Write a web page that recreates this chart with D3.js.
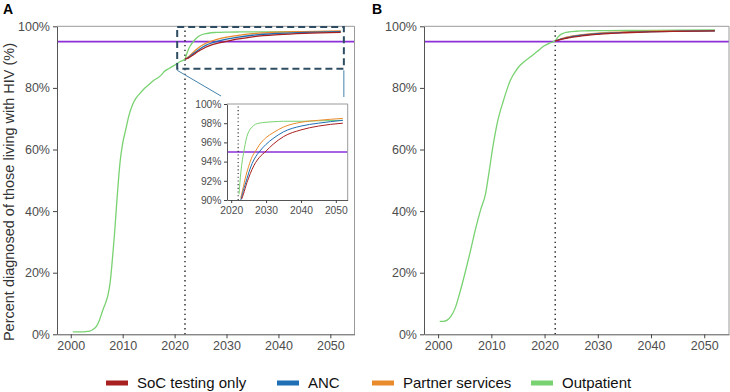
<!DOCTYPE html>
<html>
<head>
<meta charset="utf-8">
<script src="https://cdn.jsdelivr.net/npm/d3@7/dist/d3.min.js"></script>
<style>
  body { margin: 0; background: #fff; }
  svg { display: block; font-family: "Liberation Sans", Arial, sans-serif; }
</style>
</head>
<body>
<script>
// values (percent diagnosed)
const histYearsA = [2000.4, 2001, 2002, 2003, 2003.6, 2004.2, 2004.9, 2005.5, 2006.2, 2006.8, 2007.2, 2007.6, 2008, 2008.4, 2008.7, 2009, 2009.5, 2010, 2010.6, 2011.2, 2011.9, 2012.5, 2013.2, 2014, 2015, 2016, 2016.8, 2017.5, 2018, 2019, 2020, 2021, 2022];
const histA = [0.8, 0.8, 0.8, 0.9, 1.0, 1.5, 2.5, 4.5, 8, 10.6, 13, 17, 24, 32, 39, 46, 56, 62, 66.5, 71, 74.5, 76.5, 78, 79.5, 81, 82.5, 83.3, 84.3, 85.3, 86.4, 87.4, 88.5, 89.4];

const histYearsB = [2000.3, 2001, 2001.7, 2002.4, 2003.2, 2004, 2005, 2006, 2007, 2008, 2008.9, 2009.6, 2010.3, 2011.1, 2012.3, 2013.6, 2014.5, 2015.5, 2016.5, 2017.3, 2018.6, 2019.8, 2021, 2022];
const histB = [4.2, 4.2, 4.6, 5.8, 8.5, 13, 19.5, 26.5, 34, 40.5, 45.5, 53, 61, 68.5, 76, 82.6, 85.3, 87.5, 89, 90, 91.8, 93.5, 94.6, 95.3];

const projYears = [2022, 2022.25, 2022.5, 2022.75, 2023, 2023.5, 2024, 2024.5, 2025, 2026, 2027, 2028, 2030, 2032, 2035, 2040, 2045, 2052];
const socA     = [89.4, 89.5, 89.6, 89.8, 90.1, 90.6, 91.2, 91.8, 92.3, 93.2, 93.9, 94.4, 95.1, 95.8, 96.6, 97.3, 97.7, 98.0];
const ancA     = [89.4, 89.5, 89.7, 90.0, 90.3, 91.0, 91.6, 92.2, 92.8, 93.8, 94.5, 95.0, 95.8, 96.4, 97.1, 97.7, 98.0, 98.3];
const partnerA = [89.4, 89.6, 89.9, 90.2, 90.6, 91.4, 92.2, 92.9, 93.5, 94.5, 95.1, 95.7, 96.5, 97.0, 97.6, 98.1, 98.3, 98.5];
const outpatA  = [89.4, 90.6, 91.8, 92.8, 93.6, 94.8, 95.8, 96.6, 97.1, 97.6, 97.9, 98.0, 98.1, 98.15, 98.2, 98.2, 98.25, 98.3];

const socB     = [95.3, 95.35, 95.45, 95.6, 95.7, 95.9, 96.1, 96.25, 96.4, 96.65, 96.9, 97.1, 97.4, 97.65, 97.9, 98.2, 98.35, 98.5];
const ancB     = [95.3, 95.4, 95.5, 95.65, 95.8, 96.0, 96.2, 96.4, 96.6, 96.85, 97.1, 97.3, 97.6, 97.8, 98.0, 98.3, 98.4, 98.5];
const partnerB = [95.3, 95.4, 95.55, 95.7, 95.9, 96.15, 96.4, 96.6, 96.8, 97.05, 97.3, 97.45, 97.8, 98.0, 98.2, 98.4, 98.5, 98.6];
const outpatB  = [95.3, 95.9, 96.5, 96.9, 97.3, 97.7, 98.0, 98.15, 98.3, 98.4, 98.5, 98.55, 98.6, 98.62, 98.65, 98.7, 98.75, 98.8];

const seriesNames = ["SoC testing only", "ANC", "Partner services", "Outpatient"];
const seriesColors = ["#a8201f", "#1f6fb4", "#e98a2c", "#79d271"];

const xTicks = [2000, 2010, 2020, 2030, 2040, 2050];
const yTicks = [0, 20, 40, 60, 80, 100];
const insetXTicks = [2020, 2030, 2040, 2050];
const insetYTicks = [90, 92, 94, 96, 98, 100];
const targetLevel = 95;
const interventionYear = 2022;
const zoomBox = [2020.5, 2052.6, 86.2, 99.8];

// ---- layout ----
const W = 730, H = 392;
const svg = d3.select("body").append("svg").attr("width", W).attr("height", H);

const yMain = d3.scaleLinear().domain([0, 100]).range([334.3, 26.3]);
const xDomain = [1997.35, 2054.65];

function styleAxis(g, size) {
  g.attr("font-family", '"Liberation Sans", Arial, sans-serif').attr("font-size", size);
  g.select(".domain").attr("stroke", "#555");
  g.selectAll(".tick line").attr("stroke", "#444");
  g.selectAll(".tick text").attr("fill", "#4d4d4d");
}

function lineGen(x, y) {
  return d3.line().x(d => x(d[0])).y(d => y(d[1])).curve(d3.curveMonotoneX);
}

function drawLines(g, x, y, histYears, hist, proj, width, minVal) {
  const line = lineGen(x, y);
  const keep = d => minVal == null || d[1] >= minVal;
  // green carries the shared history before 2022
  const order = [3, 2, 1, 0];
  order.forEach(i => {
    let pts = d3.zip(projYears, proj[i]);
    if (i === 3) pts = d3.zip(histYears, hist).slice(0, -1).concat(pts);
    pts = pts.filter(keep);
    g.append("path")
      .attr("d", line(pts))
      .attr("fill", "none")
      .attr("stroke", seriesColors[i])
      .attr("stroke-width", width);
  });
}

function drawPanel(p) {
  const x = d3.scaleLinear().domain(xDomain).range([p.left, p.right]);
  const y = yMain;
  const g = svg.append("g");

  g.append("line")
    .attr("x1", p.left).attr("x2", p.right)
    .attr("y1", y(targetLevel)).attr("y2", y(targetLevel))
    .attr("stroke", "#8b2fd8").attr("stroke-width", 1.8);

  g.append("line")
    .attr("x1", x(interventionYear)).attr("x2", x(interventionYear))
    .attr("y1", y(0)).attr("y2", y(100))
    .attr("stroke", "#222").attr("stroke-width", 1.4)
    .attr("stroke-dasharray", "1.4 3.4");

  drawLines(g, x, y, p.histYears, p.hist, p.proj, 1.3, null);

  // frame
  g.append("path")
    .attr("d", `M${p.left},${y(100)}H${p.right}V${y(0)}`)
    .attr("fill", "none").attr("stroke", "#9a9a9a");

  g.append("g")
    .attr("transform", `translate(0,${y(0)})`)
    .call(d3.axisBottom(x).tickValues(xTicks).tickFormat(d3.format("d")).tickSize(4).tickPadding(3).tickSizeOuter(0))
    .call(a => styleAxis(a, 12.5));

  g.append("g")
    .attr("transform", `translate(${p.left},0)`)
    .call(d3.axisLeft(y).tickValues(yTicks).tickFormat(d => d + "%").tickSize(4).tickPadding(3).tickSizeOuter(0))
    .call(a => styleAxis(a, 12.5));

  svg.append("text")
    .attr("x", p.labelX).attr("y", 13.5)
    .attr("font-size", 14).attr("font-weight", "bold").attr("fill", "#000")
    .text(p.label);

  if (p.inset) drawInset(x, y, p);
}

function drawInset(xm, ym, p) {
  const left = 227, right = 347.7, top = 104, bottom = 200;
  const x = d3.scaleLinear().domain([2018.8, 2053.4]).range([left, right]);
  const y = d3.scaleLinear().domain([90, 100]).range([bottom, top]);

  // highlighted region and connectors
  svg.append("rect")
    .attr("x", xm(zoomBox[0])).attr("y", ym(zoomBox[3]))
    .attr("width", xm(zoomBox[1]) - xm(zoomBox[0]))
    .attr("height", ym(zoomBox[2]) - ym(zoomBox[3]))
    .attr("fill", "none").attr("stroke", "#2e4d63")
    .attr("stroke-width", 2).attr("stroke-dasharray", "7 4");
  svg.append("line")
    .attr("x1", xm(zoomBox[0])).attr("y1", ym(zoomBox[2]) + 1.5)
    .attr("x2", 221).attr("y2", 96)
    .attr("stroke", "#4482ab").attr("stroke-width", 1);
  svg.append("line")
    .attr("x1", xm(zoomBox[1])).attr("y1", ym(zoomBox[2]) + 1.5)
    .attr("x2", xm(zoomBox[1])).attr("y2", 97)
    .attr("stroke", "#4482ab").attr("stroke-width", 1);

  const g = svg.append("g");
  g.append("rect")
    .attr("x", left).attr("y", top)
    .attr("width", right - left).attr("height", bottom - top)
    .attr("fill", "#fff");

  svg.append("clipPath").attr("id", "insetClip")
    .append("rect")
    .attr("x", left).attr("y", top)
    .attr("width", right - left).attr("height", bottom - top);

  const inner = g.append("g").attr("clip-path", "url(#insetClip)");
  inner.append("line")
    .attr("x1", left).attr("x2", right)
    .attr("y1", y(targetLevel)).attr("y2", y(targetLevel))
    .attr("stroke", "#8b2fd8").attr("stroke-width", 1.5);
  inner.append("line")
    .attr("x1", x(interventionYear)).attr("x2", x(interventionYear))
    .attr("y1", bottom).attr("y2", top)
    .attr("stroke", "#222").attr("stroke-width", 1.1)
    .attr("stroke-dasharray", "1.1 2.6");

  drawLines(inner, x, y, p.histYears, p.hist, p.proj, 1, 90);

  g.append("path")
    .attr("d", `M${left},${top}H${right}V${bottom}`)
    .attr("fill", "none").attr("stroke", "#9a9a9a");

  g.append("g")
    .attr("transform", `translate(0,${bottom})`)
    .call(d3.axisBottom(x).tickValues(insetXTicks).tickFormat(d3.format("d")).tickSize(3).tickPadding(4).tickSizeOuter(0))
    .call(a => styleAxis(a, 10.3));
  g.append("g")
    .attr("transform", `translate(${left},0)`)
    .call(d3.axisLeft(y).tickValues(insetYTicks).tickFormat(d => d + "%").tickSize(3).tickPadding(2.5).tickSizeOuter(0))
    .call(a => styleAxis(a, 10.3));
}

drawPanel({ label: "A", labelX: 3, left: 57, right: 354.5, histYears: histYearsA, hist: histA, proj: [socA, ancA, partnerA, outpatA], inset: true });
drawPanel({ label: "B", labelX: 372, left: 424, right: 729, histYears: histYearsB, hist: histB, proj: [socB, ancB, partnerB, outpatB], inset: false });

// y axis title
svg.append("text")
  .attr("transform", "translate(14,192) rotate(-90)")
  .attr("text-anchor", "middle")
  .attr("font-size", 14.5)
  .attr("fill", "#333")
  .text("Percent diagnosed of those living with HIV (%)");

// legend
const legendX = [106, 277, 372, 531];
const legend = svg.append("g");
seriesNames.forEach((name, i) => {
  const item = legend.append("g").attr("transform", `translate(${legendX[i]},383)`);
  item.append("rect")
    .attr("x", 0).attr("y", -2.5).attr("width", 22).attr("height", 5)
    .attr("fill", seriesColors[i]);
  item.append("text")
    .attr("x", 31).attr("y", 5.2)
    .attr("font-size", 15).attr("fill", "#111")
    .text(name);
});
</script>
</body>
</html>
